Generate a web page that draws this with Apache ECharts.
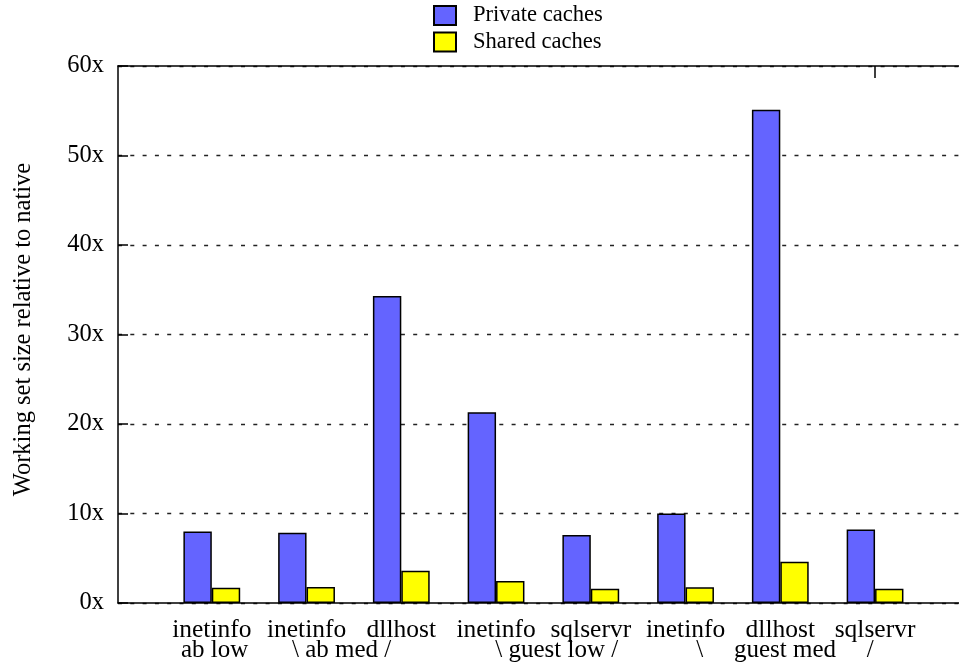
<!DOCTYPE html>
<html>
<head>
<meta charset="utf-8">
<script src="https://cdn.jsdelivr.net/npm/echarts@6/dist/echarts.min.js"></script>
<style>
  html, body { margin: 0; padding: 0; background: #fff; }
  #main { width: 959px; height: 663px; }
</style>
</head>
<body>
<div id="main"></div>
<script>
// Process name under each pair of bars
const groupNames = ['inetinfo', 'inetinfo', 'dllhost', 'inetinfo', 'sqlservr', 'inetinfo', 'dllhost', 'sqlservr'];
// Working set size relative to native (x)
const privateCaches = [8.0, 7.85, 34.3, 21.3, 7.6, 10.0, 55.1, 8.2];
const sharedCaches  = [1.7, 1.8, 3.6, 2.45, 1.6, 1.75, 4.6, 1.6];
// Workload captions on the second label row and where they sit along the x scale
const workloadNotes  = ['ab low', '\\ ab med /', '\\ guest low /', '\\', 'guest med', '/'];
const workloadNoteAt = [0.03, 1.37, 3.64, 5.15, 6.05, 6.95];

const FONT = '"Liberation Serif", "DejaVu Serif", serif';
const FS = 24.5;
const X_MIN = -0.99, X_MAX = 7.886;

const chart = echarts.init(document.getElementById('main'), null, { renderer: 'canvas' });

const baseX = {
  type: 'value', min: X_MIN, max: X_MAX,
  splitLine: { show: false },
  axisTick: { show: false },
  axisLine: { show: false }
};

function noteFor(v) {
  let best = 0;
  workloadNoteAt.forEach((p, i) => { if (Math.abs(p - v) < Math.abs(workloadNoteAt[best] - v)) best = i; });
  return workloadNotes[best];
}

chart.setOption({
  animation: false,
  backgroundColor: '#fff',
  textStyle: { fontFamily: FONT },
  legend: {
    orient: 'vertical',
    left: 433, top: 4, padding: 0,
    icon: 'rect',
    itemWidth: 22, itemHeight: 19, itemGap: 3.5,
    textStyle: { fontFamily: FONT, fontSize: 22.6, color: '#000', lineHeight: 19, padding: [0, 0, 0, 12] },
    data: ['Private caches', 'Shared caches']
  },
  grid: { left: 118, right: 0, top: 66, bottom: 60, containLabel: false },
  xAxis: [
    Object.assign({}, baseX, {
      position: 'bottom',
      axisLine: { show: true, onZero: false, lineStyle: { color: '#000', width: 1.5 } },
      axisLabel: {
        customValues: groupNames.map((_, i) => i),
        formatter: v => groupNames[Math.round(v)] || '',
        margin: 14, fontFamily: FONT, fontSize: 25.5, color: '#000'
      }
    }),
    Object.assign({}, baseX, {
      position: 'bottom',
      axisLabel: {
        customValues: workloadNoteAt,
        formatter: v => noteFor(v),
        margin: 35, fontFamily: FONT, fontSize: 25, color: '#000'
      }
    }),
    Object.assign({}, baseX, {
      position: 'top',
      axisLine: { show: true, onZero: false, lineStyle: { color: '#000', width: 1.5 } },
      axisTick: { show: true, inside: true, length: 12, customValues: [7], lineStyle: { color: '#000', width: 1.5 } },
      axisLabel: { show: false }
    })
  ],
  yAxis: {
    type: 'value', min: 0, max: 60, interval: 10,
    name: 'Working set size relative to native',
    nameLocation: 'middle', nameRotate: 90, nameGap: 82,
    nameTextStyle: { fontFamily: FONT, fontSize: FS, color: '#000', padding: [0, 0, 0, 10] },
    axisLine: { show: true, onZero: false, lineStyle: { color: '#000', width: 1.5 } },
    axisTick: { show: true, inside: true, length: 10, lineStyle: { color: '#000', width: 1.5 } },
    axisLabel: {
      formatter: v => v + 'x', margin: 14,
      fontFamily: FONT, fontSize: FS, color: '#000'
    },
    splitLine: {
      show: true,
      lineStyle: { color: '#222', width: 1.3, type: [4, 8.3] }
    }
  },
  series: [
    {
      name: 'Private caches', type: 'bar', xAxisIndex: 0,
      barWidth: 28.4, barGap: '0%',
      itemStyle: { color: '#6464ff', borderColor: '#000', borderWidth: 1.5 },
      data: privateCaches.map((v, i) => [i, v])
    },
    {
      name: 'Shared caches', type: 'bar', xAxisIndex: 0,
      barWidth: 28.4, barGap: '0%',
      itemStyle: { color: '#ffff00', borderColor: '#000', borderWidth: 1.5 },
      data: sharedCaches.map((v, i) => [i, v])
    }
  ]
});
</script>
</body>
</html>
